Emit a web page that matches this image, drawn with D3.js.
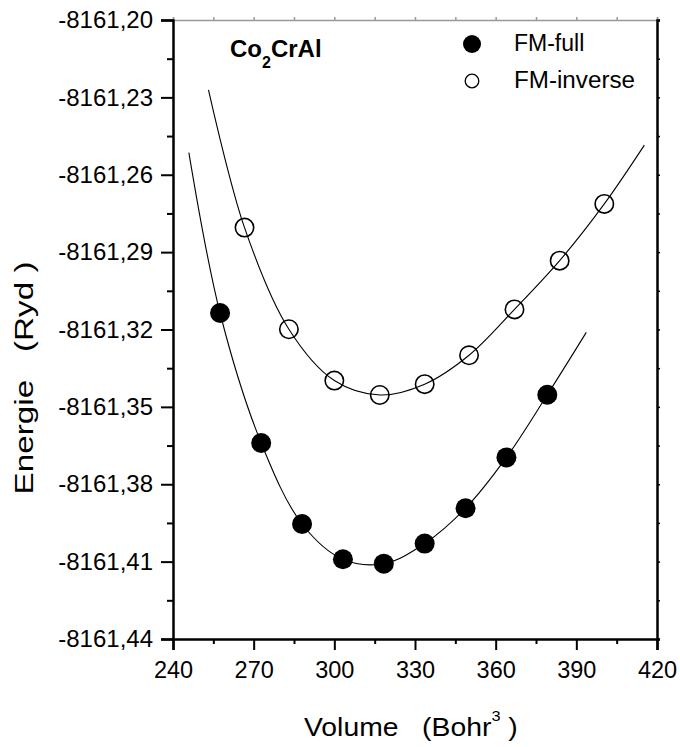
<!DOCTYPE html>
<html><head><meta charset="utf-8">
<script src="https://cdn.jsdelivr.net/npm/d3@7/dist/d3.min.js"></script>
<style>body{margin:0;background:#fff}svg text{font-family:"Liberation Sans",Arial,sans-serif}</style>
</head><body><svg id="c" width="680" height="747"></svg>
<script>
// Data
const fullVolume = [257.5, 272.8, 288.0, 303.2, 318.4, 333.6, 348.8, 364.0, 379.2];
const fullEnergy = [-8161.3136, -8161.3640, -8161.3954, -8161.4091, -8161.4108, -8161.4030, -8161.3893, -8161.3696, -8161.3453];
const invVolume = [266.6, 283.1, 300.0, 316.9, 333.6, 350.1, 367.0, 383.8, 400.4];
const invEnergy = [-8161.2805, -8161.3199, -8161.3398, -8161.3454, -8161.3412, -8161.3300, -8161.3122, -8161.2933, -8161.2713];
// Fitted curves
const fitFullVolume = [245.9, 257.5, 272.8, 288.0, 303.2, 318.4, 333.6, 348.8, 364.0, 379.2, 393.7];
const fitFullEnergy = [-8161.2514, -8161.3136, -8161.3640, -8161.3954, -8161.4091, -8161.4108, -8161.4030, -8161.3893, -8161.3696, -8161.3453, -8161.3211];
const fitInvVolume = [253.2, 266.6, 283.1, 300.0, 316.9, 333.6, 350.1, 367.0, 383.8, 400.4, 415.3];
const fitInvEnergy = [-8161.2271, -8161.2805, -8161.3199, -8161.3398, -8161.3454, -8161.3412, -8161.3300, -8161.3122, -8161.2933, -8161.2713, -8161.2485];
const xTicks = [240, 270, 300, 330, 360, 390, 420];
const yTicks = [-8161.20, -8161.23, -8161.26, -8161.29, -8161.32, -8161.35, -8161.38, -8161.41, -8161.44];
const yTickLabels = ["-8161,20","-8161,23","-8161,26","-8161,29","-8161,32","-8161,35","-8161,38","-8161,41","-8161,44"];
const seriesNames = ["FM-full", "FM-inverse"];

const svg = d3.select("#c");
const L = 173, R = 657, T = 20, B = 639;
const x = d3.scaleLinear().domain([240, 420]).range([L, R]);
const y = d3.scaleLinear().domain([-8161.44, -8161.20]).range([B, T]);

const xMinor = xTicks.slice(0, -1).map((v, i) => (v + xTicks[i + 1]) / 2);
const yMinor = yTicks.slice(0, -1).map((v, i) => (v + yTicks[i + 1]) / 2);

// top axis (thin gray)
const gTop = svg.append("g").attr("transform", `translate(0,${T})`)
  .call(d3.axisTop(x).tickValues(xTicks.concat(xMinor)).tickSize(3).tickFormat(""));
gTop.selectAll("path,line").attr("stroke", "#999").attr("stroke-width", 1.5);
// right axis
const gRight = svg.append("g").attr("transform", `translate(${R},0)`)
  .call(d3.axisRight(y).tickValues(yTicks.concat(yMinor)).tickSize(3).tickFormat(""));
gRight.select("path").attr("stroke", "#000").attr("stroke-width", 2.5);
gRight.selectAll("line").attr("stroke", "#000").attr("stroke-width", 1.5);

// bottom axis
const gx = svg.append("g").attr("transform", `translate(0,${B})`)
  .call(d3.axisBottom(x).tickValues(xTicks).tickSize(11).tickPadding(11).tickFormat(d => String(d)));
gx.select("path").attr("stroke", "#000").attr("stroke-width", 2.5);
gx.selectAll("line").attr("stroke", "#000").attr("stroke-width", 2);
gx.selectAll("text").attr("font-size", 23.5).attr("fill", "#000");
svg.append("g").attr("transform", `translate(0,${B})`)
  .call(d3.axisBottom(x).tickValues(xMinor).tickSize(5).tickFormat(""))
  .call(g => { g.select("path").remove(); g.selectAll("line").attr("stroke", "#000").attr("stroke-width", 2); });

// left axis
const gy = svg.append("g").attr("transform", `translate(${L},0)`)
  .call(d3.axisLeft(y).tickValues(yTicks).tickSize(12).tickPadding(8).tickFormat((d, i) => yTickLabels[i]));
gy.select("path").attr("stroke", "#000").attr("stroke-width", 2.5);
gy.selectAll("line").attr("stroke", "#000").attr("stroke-width", 2);
gy.selectAll("text").attr("font-size", 24).attr("fill", "#000");
svg.append("g").attr("transform", `translate(${L},0)`)
  .call(d3.axisLeft(y).tickValues(yMinor).tickSize(6).tickFormat(""))
  .call(g => { g.select("path").remove(); g.selectAll("line").attr("stroke", "#000").attr("stroke-width", 2); });

// fit lines
const line = d3.line().x(d => x(d[0])).y(d => y(d[1])).curve(d3.curveCatmullRom.alpha(0.5));
svg.append("path").datum(d3.zip(fitFullVolume, fitFullEnergy)).attr("d", line)
  .attr("fill", "none").attr("stroke", "#000").attr("stroke-width", 1.1);
svg.append("path").datum(d3.zip(fitInvVolume, fitInvEnergy)).attr("d", line)
  .attr("fill", "none").attr("stroke", "#000").attr("stroke-width", 1.1);

// points
svg.append("g").selectAll("circle").data(d3.zip(fullVolume, fullEnergy)).join("circle")
  .attr("cx", d => x(d[0])).attr("cy", d => y(d[1])).attr("r", 10).attr("fill", "#000");
svg.append("g").selectAll("circle").data(d3.zip(invVolume, invEnergy)).join("circle")
  .attr("cx", d => x(d[0])).attr("cy", d => y(d[1])).attr("r", 9.2)
  .attr("fill", "none").attr("stroke", "#000").attr("stroke-width", 1.6);

// compound label
const t = svg.append("text").attr("x", 230).attr("y", 57).attr("font-size", 24).attr("font-weight", "bold");
t.append("tspan").text("Co");
t.append("tspan").text("2").attr("font-size", 16).attr("dy", 11);
t.append("tspan").text("CrAl").attr("dy", -11);

// legend
svg.append("circle").attr("cx", 472).attr("cy", 44).attr("r", 9).attr("fill", "#000");
svg.append("circle").attr("cx", 472).attr("cy", 81).attr("r", 6.8).attr("fill", "none").attr("stroke", "#000").attr("stroke-width", 1.3);
svg.append("text").attr("x", 514).attr("y", 51).attr("font-size", 23).text(seriesNames[0]);
svg.append("text").attr("x", 514).attr("y", 88).attr("font-size", 23).attr("textLength", 121).attr("lengthAdjust", "spacingAndGlyphs").text(seriesNames[1]);

// axis titles
const xt = svg.append("text").attr("transform", "translate(304,736) scale(1.09,1)").attr("font-size", 26).style("white-space", "pre");
xt.append("tspan").text("Volume   (Bohr");
xt.append("tspan").text("3").attr("font-size", 15).attr("dy", -15);
xt.append("tspan").text(" )").attr("dy", 15);

svg.append("text").attr("transform", "translate(33,378) rotate(-90)").attr("text-anchor", "middle")
  .attr("font-size", 26).attr("textLength", 233).attr("lengthAdjust", "spacingAndGlyphs")
  .style("white-space", "pre").text("Energie   (Ryd )");
</script></body></html>
